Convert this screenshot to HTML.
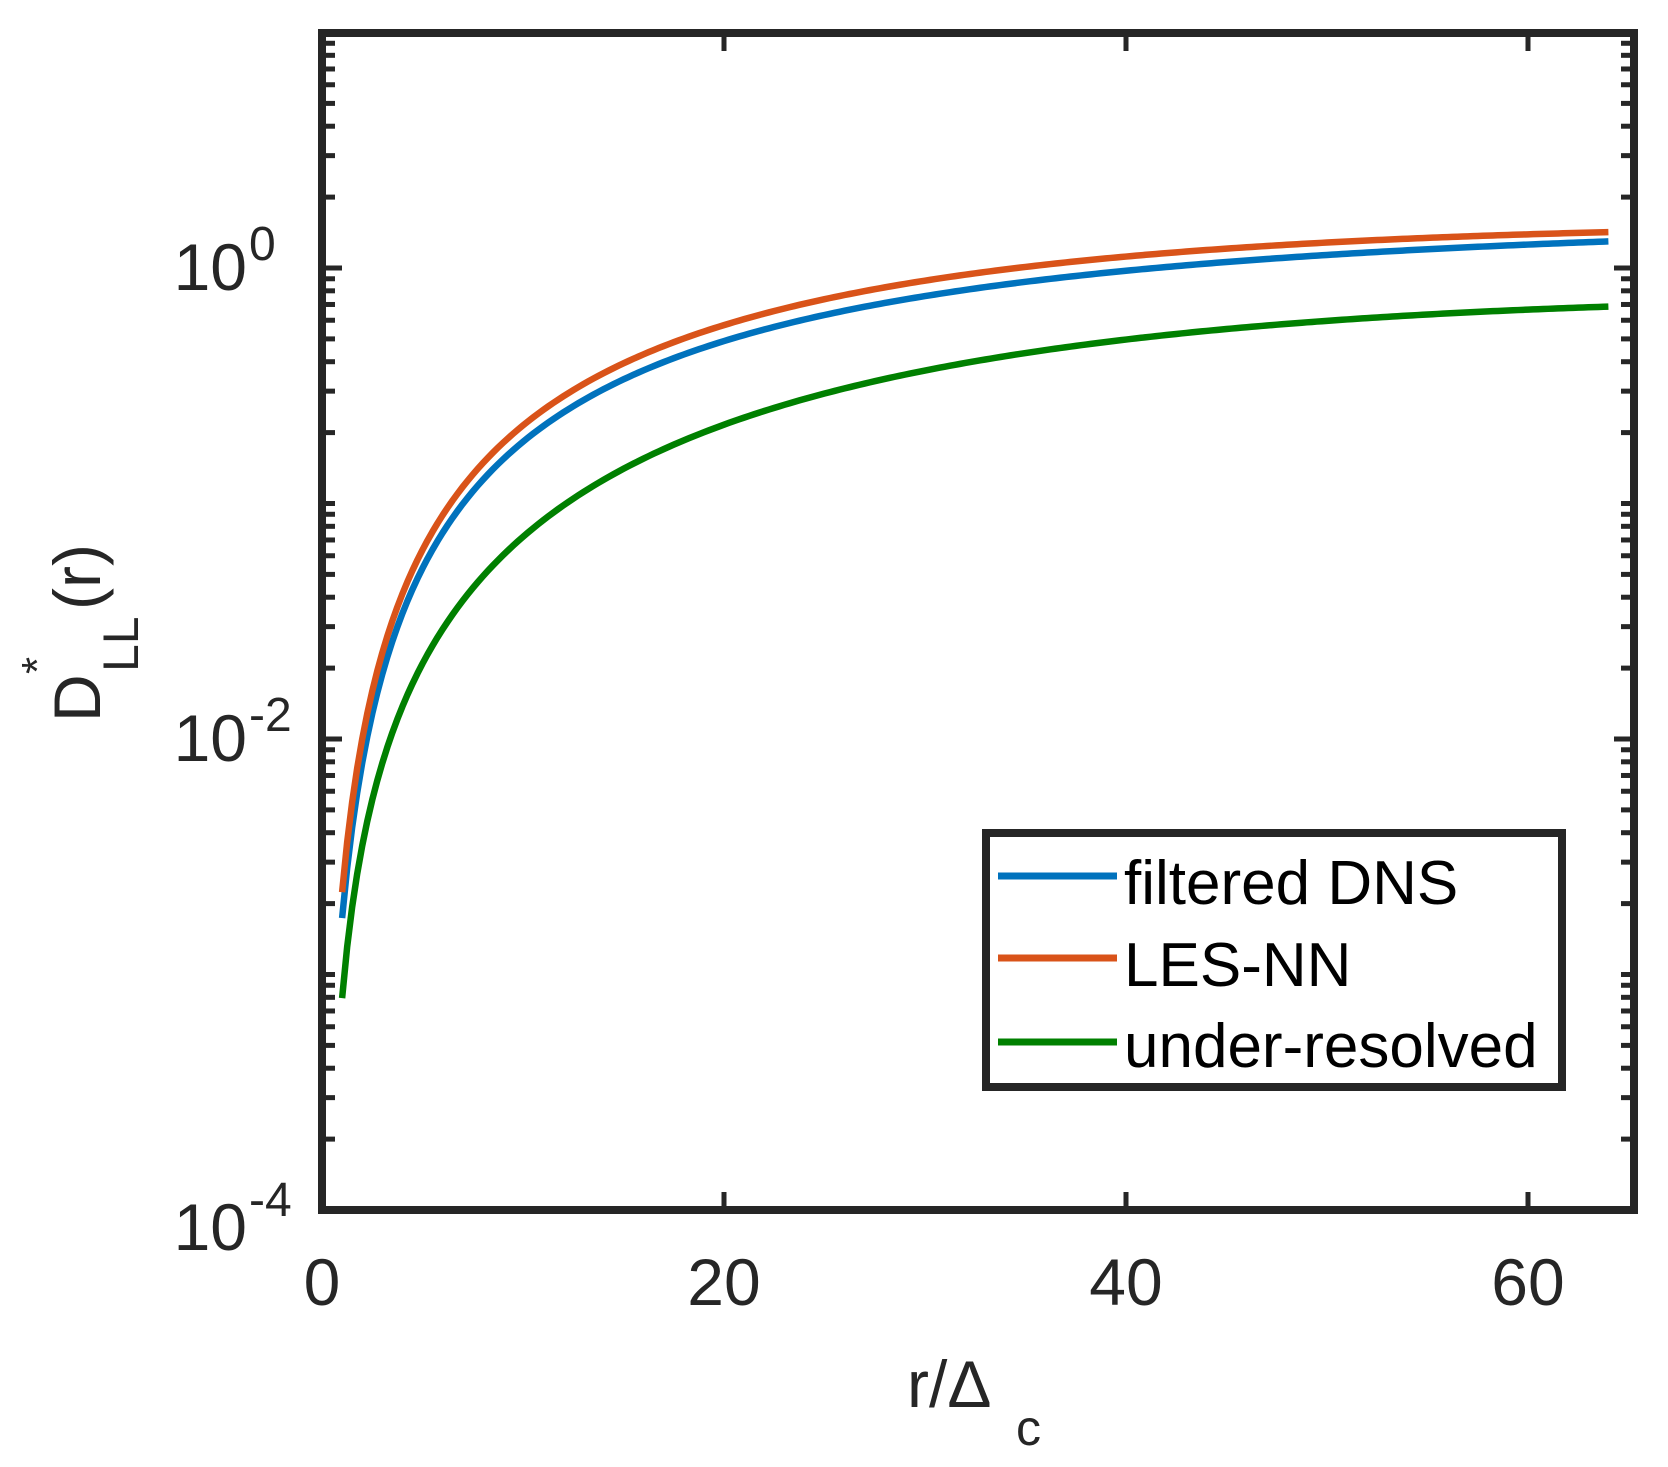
<!DOCTYPE html>
<html><head><meta charset="utf-8"><style>
html,body{margin:0;padding:0;background:#fff;}
svg{display:block;}
text{font-family:"Liberation Sans",Arial,sans-serif;fill:#262626;}
</style></head><body>
<svg id="s" width="1668" height="1467" viewBox="0 0 1668 1467" xmlns="http://www.w3.org/2000/svg">
<rect width="1668" height="1467" fill="#fff"/>
<g id="curves" fill="none" stroke-width="6.5" stroke-linejoin="round" stroke-linecap="butt"></g>
<g id="ticks" stroke="#262626" stroke-width="5"></g>
<rect x="322" y="33" width="1312" height="1177" fill="none" stroke="#262626" stroke-width="8"/>
<g font-size="66">
<text x="247" y="290" text-anchor="end">10</text><text x="249" y="260" font-size="48">0</text>
<text x="247" y="761" text-anchor="end">10</text><text x="249" y="731" font-size="48">-2</text>
<text x="247" y="1250" text-anchor="end">10</text><text x="249" y="1216" font-size="48">-4</text>
</g>
<g font-size="66" text-anchor="middle">
<text x="322" y="1305">0</text>
<text x="724" y="1305">20</text>
<text x="1126" y="1305">40</text>
<text x="1528" y="1305">60</text>
</g>
<text x="907" y="1407" font-size="66">r/Δ</text>
<text x="1016" y="1445" font-size="50">c</text>
<g transform="translate(100,722) rotate(-90)">
<text x="0" y="0" font-size="66">D</text>
<text x="50" y="38" font-size="50">LL</text>
<text x="48" y="-48" font-size="44">*</text>
<text x="112" y="0" font-size="66">(r)</text>
</g>
<rect x="986" y="833" width="576" height="254" fill="#fff" stroke="#262626" stroke-width="8"/>
<line x1="998" y1="876" x2="1117" y2="876" stroke="#0072BD" stroke-width="7"/>
<line x1="998" y1="958" x2="1117" y2="958" stroke="#D95319" stroke-width="7"/>
<line x1="998" y1="1042" x2="1117" y2="1042" stroke="#008000" stroke-width="7"/>
<g font-size="62">
<text x="1124" y="904" style="fill:#000">filtered DNS</text>
<text x="1124" y="986" style="fill:#000">LES-NN</text>
<text x="1124" y="1067" style="fill:#000">under-resolved</text>
</g>
</svg>
<script>
var X=function(r){return 322+20.1*r;}, Y=function(l){return 268-235.5*l;};
var rs=[1,2,3,5,7,10,15,20,24,30,40,50,58.6,64];
var data={
"#0072BD":[-2.76,-2.1,-1.76,-1.24,-0.98,-0.73,-0.52,-0.33,-0.22,-0.09,0.0,0.06,0.10,0.11],
"#D95319":[-2.65,-2.0,-1.66,-1.17,-0.91,-0.67,-0.44,-0.25,-0.15,-0.04,0.06,0.11,0.145,0.15],
"#008000":[-3.10,-2.45,-2.13,-1.65,-1.40,-1.15,-0.88,-0.65,-0.56,-0.45,-0.28,-0.22,-0.18,-0.166]};
function fit(xs,ys,deg){
 var n=deg+1,A=[],b=[];
 for(var i=0;i<n;i++){A.push(new Array(n).fill(0));b.push(0);}
 for(var k=0;k<xs.length;k++){var w=(k==0||k==xs.length-1)?6:1;
  for(var i=0;i<n;i++){b[i]+=w*ys[k]*Math.pow(xs[k],i);for(var j=0;j<n;j++)A[i][j]+=w*Math.pow(xs[k],i+j);}}
 for(var i=0;i<n;i++){var p=i;for(var r=i+1;r<n;r++)if(Math.abs(A[r][i])>Math.abs(A[p][i]))p=r;
  var t=A[i];A[i]=A[p];A[p]=t;t=b[i];b[i]=b[p];b[p]=t;
  for(var r=0;r<n;r++)if(r!=i){var f=A[r][i]/A[i][i];for(var j=i;j<n;j++)A[r][j]-=f*A[i][j];b[r]-=f*b[i];}}
 return b.map(function(v,i){return v/A[i][i];});
}
var ns="http://www.w3.org/2000/svg";
var g=document.getElementById("curves");
var lx=rs.map(function(r){return Math.log10(r);});
["#008000","#0072BD","#D95319"].forEach(function(c){
 var co=fit(lx,data[c],4),d="";
 for(var r=1;r<=64.001;r+=0.25){var u=Math.log10(r),v=0;for(var i=0;i<co.length;i++)v+=co[i]*Math.pow(u,i);
  d+=(d?" L":"M")+X(r).toFixed(2)+","+Y(v).toFixed(2);}
 var p=document.createElementNS(ns,"path");p.setAttribute("d",d);p.setAttribute("stroke",c);g.appendChild(p);
});
var t=document.getElementById("ticks");
function ln(x1,y1,x2,y2){var l=document.createElementNS(ns,"line");l.setAttribute("x1",x1);l.setAttribute("y1",y1);l.setAttribute("x2",x2);l.setAttribute("y2",y2);t.appendChild(l);}
for(var e=-4;e<=0;e++){for(var m=1;m<10;m++){var l=e+Math.log10(m);if(l>1)break;var y=Y(l);var L=(m==1&&e%2==0)?16:9;ln(326,y,326+L,y);ln(1630,y,1630-L,y);}}
[20,40,60].forEach(function(r){var x=X(r);ln(x,1206,x,1192);ln(x,37,x,51);});
</script>
</body></html>
